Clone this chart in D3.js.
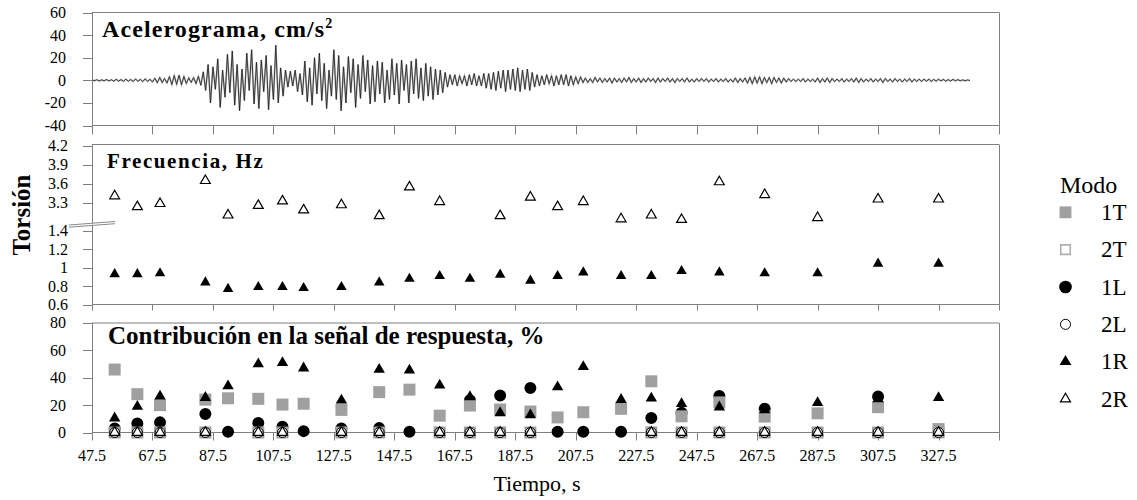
<!DOCTYPE html>
<html><head><meta charset="utf-8">
<script src="https://cdn.jsdelivr.net/npm/d3@7"></script>
<style>
body{margin:0;background:#fff}
svg{display:block}
</style>
</head><body>
<svg id="c" width="1137" height="500"></svg>
<script>
// ---------------- DATA ----------------
const xTickValues = [47.5,67.5,87.5,107.5,127.5,147.5,167.5,187.5,207.5,227.5,247.5,267.5,287.5,307.5,327.5,347.5];
const xTickLabels = ["47.5","67.5","87.5","107.5","127.5","147.5","167.5","187.5","207.5","227.5","247.5","267.5","287.5","307.5","327.5"];
const acelTickValues = [-40,-20,0,20,40,60];
const frecTickValues = [0.6,0.8,1,1.2,1.4,3.3,3.6,3.9,4.2];
const frecTickLabels = ["0.6","0.8","1","1.2","1.4","3.3","3.6","3.9","4.2"];
const contribTickValues = [0,20,40,60,80];

// accelerogram: start time, sample step (s) and peak values (cm/s2)
const acelStart = 47.5;
const acelStep = 0.8;
const acelValues = [
 0.3,-0.4,0.5,-0.6,0.4,-0.5,0.7,-0.6,0.5,-0.8,0.9,-0.7,0.6,-0.9,1.0,-0.8,0.7,-1.0,1.2,-0.9,0.8,-1.1,1.3,-1.0,0.9,
 -1.5,1.8,-2.2,2.6,-2.0,1.6,-2.4,3.2,-3.8,4.2,-3.6,4.6,-4.0,3.4,-2.8,2.2,-1.8,2.4,-2.9,3.5,
 -4.5,7.5,-9,14,
 -20,12,-8,19,-24,9,-15,23,-11,26,-22,14,-27,10,-18,24,-9,27,-21,16,
 -25,18,-10,22,-26,13,-17,31,-20,11,-14,9,-6,8,
 -5,9,-10,6,-13,17,
 -19,11,-22,20,-12,24,-18,15,-25,9,-14,27,-17,22,-27,12,-20,21,-11,19,-24,14,-16,22,-10,18,-21,13,-19,17,-12,
 16,-20,9,-17,19,-13,15,-21,18,-9,14,-20,17,-12,19,-16,11,-18,15,-14,12,-17,10,-13,9,-11,7,
 -6,5,-4,5,-5,4,-3,4,-5,5,-4,6,-5,4,
 -5,6,-7,6,-8,7,-9,8,-7,9,-10,9,-8,10,-9,11,-10,9,-8,10,-9,7,-6,5,-5,
 4,-4,5,-3,4,-5,4,-4,5,-4,5,-5,4,-4,3,-3,3,-2,2,
 -2,1.5,-2,2.5,-1.5,2,-2,1.5,-1.5,2,-2.5,2,-1.5,1.5,-2,2,-1.5,2.5,-2,1.5,
 -1.5,2,-2,1.5,-1.5,2,-1,1.5,-2,2,-1.5,1.5,-1,2,-1.5,1.5,-2,1.5,-1,1.5,
 -1.5,2,-1.5,1,-1.5,1.5,-1,1.5,
 -1,1.5,-1.5,1,-1,1.5,-1.5,1,-1,1.5,-1.5,1,-1.5,2,-2,1.5,-1.5,2,-2.5,2.5,
 -3,3,-2.5,3,-3,2.5,-2,2.5,-3,2.5,-2,2,-2.5,2,-1.5,1.5,-1,1,-1,1,
 -1,1.5,-1.5,1,-1,1,-1.5,2,-2,1.5,-1.5,2,-2,1.5,-1,1,-1,1.5,-1.5,1,
 -1,1.5,-1.5,2,-2,1.5,-1.5,1,-1,1.5,-1.5,1,-1,1.5,-2,1.5,-1,1,-1.5,1.5,
 -1,1,-1.5,1,-1,1.5,-1.5,1,-1,1,-1,1,-0.8,1,-1,0.8,-0.8,1,-0.6,0.8,
 -0.8,0.6,-0.6,0.8,-0.5,0.6,-0.5,0.4,-0.4,0.3,-0.2
];

// identification instants (s)
const tiempos = [55,62.5,70,85,92.5,102.5,110.5,117.5,130,142.5,152.5,162.5,172.5,182.5,192.5,201.5,210,222.5,232.5,242.5,255,270,287.5,307.5,327.5];
// frequencies (Hz)
const frec1R = [0.93,0.93,0.94,0.84,0.77,0.79,0.79,0.78,0.79,0.84,0.88,0.91,0.88,0.925,0.86,0.91,0.95,0.91,0.91,0.965,0.95,0.94,0.94,1.045,1.045];
const frec2R = [3.41,3.24,3.29,3.65,3.11,3.26,3.33,3.19,3.27,3.10,3.55,3.32,null,3.10,3.39,3.24,3.32,3.05,3.11,3.04,3.63,3.43,3.07,3.36,3.36];
// contribution (%)
const contrib1T = [46,28,20,24,25,24.6,20.4,21,16.5,29.5,31.3,12.3,19.7,16.8,15.3,11,14.8,17.3,37.4,11.8,22,11.6,14,18.5,2.5];
const contrib2T = [0,0,0,0,null,0,0,null,0,0,null,0,0,0,0,null,null,null,0,0,0,0,0,0,0];
const contrib1L = [3,6.6,7.4,13.6,0.5,6.9,4.2,1,3,3.2,0.5,null,23.5,27,32.5,0.5,0.5,0.5,10.6,14.5,26.6,17.3,null,26.3,null];
const contrib2L = [0,0,0,0,null,0,0,null,0,0,null,0,0,0,0,null,null,null,0,0,0,0,0,0,0];
const contrib1R = [10.5,19,26.5,25.5,34,50,51,47,23.5,46,45.5,34.5,26,14.3,12.8,33.2,48,24,25,21,18.5,16.5,21.7,24.5,25.4];
const contrib2R = [0,0,0,0,null,0,0,null,0,0,null,0,0,0,0,null,null,null,0,0,0,0,0,0,0];

const modos = ["1T","2T","1L","2L","1R","2R"];

// ---------------- DRAWING ----------------
const FONT = '"Liberation Serif"';
const svg = d3.select('#c');
const GRID = '#7f7f7f';
const GRAY = '#a0a0a0';
const L = 92, R = 999;

const x = d3.scaleLinear().domain([47.5,347.5]).range([L,R]);
const yA = d3.scaleLinear().domain([-40,60]).range([125.5,12.5]);
const yLow = d3.scaleLinear().domain([0.6,1.4]).range([304.5,231]);
const yHigh = d3.scaleLinear().domain([3.3,4.2]).range([203,145.5]);
const yF = v => v < 2 ? yLow(v) : yHigh(v);
const yC = d3.scaleLinear().domain([0,80]).range([432.5,323]);

function txt(){ return svg.append('text').style('font-family', FONT).attr('fill','#000'); }
function hline(y, x1, x2, col){ svg.append('line').attr('x1',x1).attr('x2',x2).attr('y1',y).attr('y2',y).attr('stroke',col||GRID).attr('stroke-width',1); }
function vline(xx, y1, y2, col){ svg.append('line').attr('x1',xx).attr('x2',xx).attr('y1',y1).attr('y2',y2).attr('stroke',col||GRID).attr('stroke-width',1); }

function panelFrame(top, bottom, tickDown){
  hline(top, L, R); vline(R+0.5, top, bottom); vline(L+0.5, top, bottom);
  hline(bottom, L, R+0.5);
  xTickValues.forEach(t => vline(Math.round(x(t))+0.5, bottom, bottom+tickDown));
}
function yTicks(vals, scale, labels, right){
  vals.forEach((v,i) => {
    const yy = scale(v);
    hline(Math.round(yy)+0.5, L-9, L+0.5);
    txt().attr('x', right).attr('y', yy).attr('dy','0.34em')
      .attr('text-anchor','end').attr('font-size',16).text(labels ? labels[i] : v);
  });
}

// Panel 1: accelerogram
panelFrame(12.5, 125.5, 9);
yTicks(acelTickValues, yA, null, 66);
const acelData = acelValues.map((v,i) => [acelStart + acelStep*i, v]);
const acelLine = d3.line().x(d => x(d[0])).y(d => yA(d[1]));
svg.append('path').datum(acelData).attr('d', acelLine).attr('fill','none').attr('stroke','#bdbdbd').attr('stroke-width',1.8);
svg.append('path').datum(acelData).attr('d', acelLine).attr('fill','none').attr('stroke','#1a1a1a').attr('stroke-width',0.8);
const t1 = txt().attr('x',102).attr('y',36.5).attr('font-size',24).attr('font-weight','bold').attr('letter-spacing',1.1);
t1.append('tspan').text('Acelerograma, cm/s');
t1.append('tspan').attr('font-size',14).attr('dy',-9).text('2');

// Panel 2: frequencies
panelFrame(144.5, 304.5, 6);
yTicks(frecTickValues, yF, frecTickLabels, 68);
svg.append('path').attr('d', `M69,225 L115,221.7 L115,222.7 L69,226.7 Z`).attr('fill','#fff');
svg.append('line').attr('x1',69).attr('y1',225).attr('x2',115).attr('y2',221.5).attr('stroke','#888').attr('stroke-width',1);
svg.append('line').attr('x1',69).attr('y1',227.2).attr('x2',115).attr('y2',223.7).attr('stroke','#888').attr('stroke-width',1);
txt().attr('x',107).attr('y',168.3).attr('font-size',21).attr('font-weight','bold').attr('letter-spacing',1.6).text('Frecuencia, Hz');

const tri = s => d3.symbol().type(d3.symbolTriangle).size(s)();
const sq = s => d3.symbol().type(d3.symbolSquare).size(s)();
const circ = s => d3.symbol().type(d3.symbolCircle).size(s)();

function drawSeries(vals, yScale, path, fill, stroke, sw){
  const pts = tiempos.map((t,i) => [t, vals[i]]).filter(d => d[1] != null);
  svg.append('g').selectAll('path').data(pts).join('path')
    .attr('d', path)
    .attr('transform', d => `translate(${x(d[0])},${yScale(d[1])})`)
    .attr('fill', fill).attr('stroke', stroke).attr('stroke-width', sw);
}
drawSeries(frec1R, yF, tri(48), '#000', 'none', 0);
drawSeries(frec2R, yF, tri(42), '#fff', '#000', 1.2);

// Panel 3: contributions
panelFrame(323, 432.5, 8);
yTicks(contribTickValues, yC, null, 66);
txt().attr('x',108).attr('y',344.3).attr('font-size',25).attr('font-weight','bold').text('Contribución en la señal de respuesta, %');

drawSeries(contrib1L, yC, circ(113), '#000', 'none', 0);
drawSeries(contrib1T, yC, sq(144), GRAY, 'none', 0);
drawSeries(contrib2T, yC, sq(100), '#fff', GRAY, 2);
drawSeries(contrib2L, yC, circ(80), 'none', '#000', 1);
drawSeries(contrib1R, yC, tri(56), '#000', 'none', 0);
drawSeries(contrib2R, yC, tri(44), '#fff', '#000', 1.2);

xTickLabels.forEach((lab,i) => {
  txt().attr('x', x(xTickValues[i])).attr('y', 461).attr('text-anchor','middle').attr('font-size',16).text(lab);
});
txt().attr('x',537).attr('y',491).attr('text-anchor','middle').attr('font-size',22).text('Tiempo, s');
txt().attr('transform','translate(30,215) rotate(-90)').attr('text-anchor','middle')
  .attr('font-size',25).attr('font-weight','bold').text('Torsión');

// Legend
txt().attr('x',1060).attr('y',192.5).attr('font-size',24).text('Modo');
const legSym = {
  '1T': {p: sq(140), f: GRAY, s: 'none', w: 0},
  '2T': {p: sq(90), f: '#fff', s: '#b0b0b0', w: 1.6},
  '1L': {p: circ(125), f: '#000', s: 'none', w: 0},
  '2L': {p: circ(80), f: '#fff', s: '#000', w: 1},
  '1R': {p: tri(60), f: '#000', s: 'none', w: 0},
  '2R': {p: tri(44), f: '#fff', s: '#000', w: 1.2}
};
modos.forEach((m,i) => {
  const cy = 212.3 + i*37.35;
  const s = legSym[m];
  svg.append('path').attr('d', s.p).attr('transform', `translate(1065.5,${cy})`)
    .attr('fill', s.f).attr('stroke', s.s).attr('stroke-width', s.w);
  txt().attr('x',1101).attr('y', cy+7.5).attr('font-size',23).text(m);
});
</script>
</body></html>
